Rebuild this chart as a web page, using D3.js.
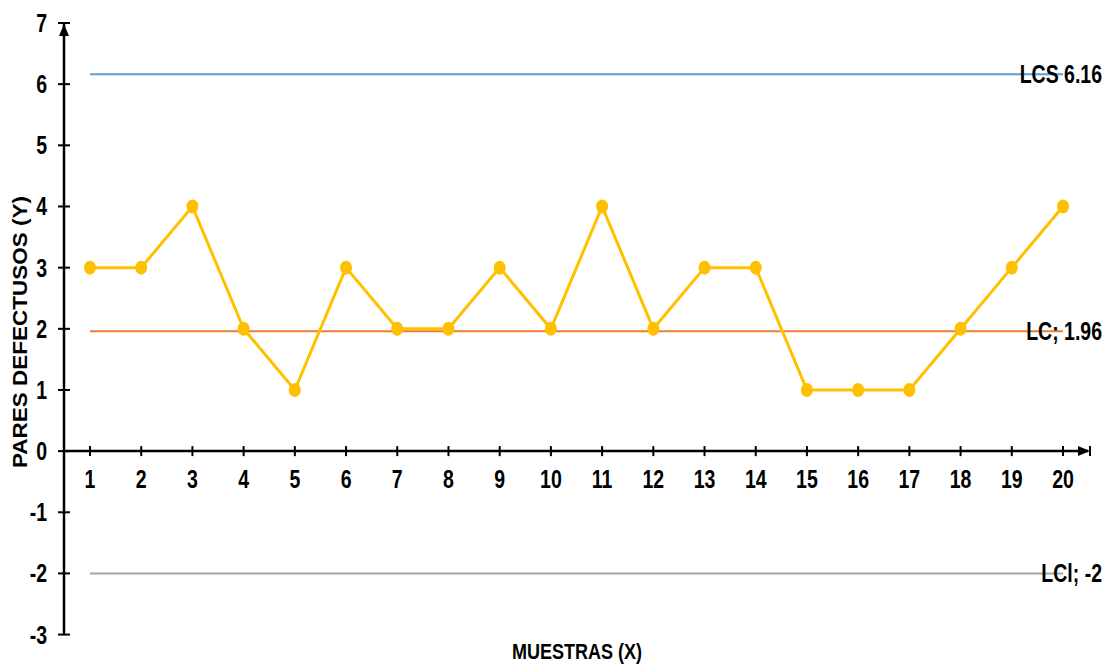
<!DOCTYPE html>
<html>
<head>
<meta charset="utf-8">
<script src="https://cdn.jsdelivr.net/npm/d3@7"></script>
<style>
  html, body { margin: 0; padding: 0; background: #fff; }
  svg { display: block; }
  .lbl, .ttl { font-family: 'Liberation Sans', Arial, sans-serif; font-weight: bold; fill: #000; }
</style>
</head>
<body>
<svg id="chart" width="1107" height="664"></svg>
<script>
// Defective pairs per sample (control chart)
const muestras = [1, 2, 3, 4, 5, 6, 7, 8, 9, 10, 11, 12, 13, 14, 15, 16, 17, 18, 19, 20];
const defectuosos = [3, 3, 4, 2, 1, 3, 2, 2, 3, 2, 4, 2, 3, 3, 1, 1, 1, 2, 3, 4];
const yTicks = [-3, -2, -1, 0, 1, 2, 3, 4, 5, 6, 7];
// Control limits: upper, centre, lower
const limites = [
  { nombre: "LCS", valor: 6.16, texto: "LCS 6.16", color: "#5b9bd5" },
  { nombre: "LC",  valor: 1.96, texto: "LC; 1.96", color: "#ed7d31" },
  { nombre: "LCI", valor: -2,   texto: "LCl; -2",  color: "#a5a5a5" }
];

const svg = d3.select("#chart");
const axisX = 64;
const x = d3.scalePoint().domain(muestras).range([90, 1063]);
const y = d3.scaleLinear().domain([-3, 7]).range([634.6, 23]);
const y0 = y(0);

// Condensed bold label: horizontally squeezed text
const SX = 0.78;
function label(parent, px, py, txt, anchor, size, sx) {
  return parent.append("text").attr("class", "lbl")
    .attr("transform", `translate(${px},${py}) scale(${sx || SX},1)`)
    .attr("text-anchor", anchor).attr("font-size", size || 25)
    .text(txt);
}

// Control limit lines
limites.forEach(l => {
  svg.append("line")
    .attr("x1", x(muestras[0])).attr("x2", x(muestras[muestras.length - 1]))
    .attr("y1", y(l.valor)).attr("y2", y(l.valor))
    .attr("stroke", l.color).attr("stroke-width", 2);
});

// Vertical axis with arrow
const gY = svg.append("g");
gY.append("line").attr("x1", axisX).attr("x2", axisX)
  .attr("y1", y(-3)).attr("y2", y(7)).attr("stroke", "#000").attr("stroke-width", 2.5);
gY.selectAll("line.tk").data(yTicks).join("line").attr("class", "tk")
  .attr("x1", axisX - 6).attr("x2", axisX + 6)
  .attr("y1", d => y(d)).attr("y2", d => y(d))
  .attr("stroke", "#000").attr("stroke-width", 2);
gY.append("path")
  .attr("d", `M${axisX},${y(7) + 1} L${axisX - 5},${y(7) + 13} L${axisX + 5},${y(7) + 13} Z`)
  .attr("fill", "#000");
yTicks.forEach(t => label(gY, 47, y(t) + 9, t, "end"));

// Horizontal axis at zero with arrow
const gX = svg.append("g");
gX.append("line").attr("x1", axisX).attr("x2", 1088)
  .attr("y1", y0).attr("y2", y0).attr("stroke", "#000").attr("stroke-width", 2.5);
gX.selectAll("line.tk").data(muestras).join("line").attr("class", "tk")
  .attr("x1", d => x(d)).attr("x2", d => x(d))
  .attr("y1", y0 - 5).attr("y2", y0 + 5)
  .attr("stroke", "#000").attr("stroke-width", 2);
gX.append("path")
  .attr("d", `M1090,${y0} L1078,${y0 - 5} L1078,${y0 + 5} Z`).attr("fill", "#000");
gX.append("line").attr("x1", 1090).attr("x2", 1090).attr("y1", y0 - 5).attr("y2", y0 + 5)
  .attr("stroke", "#000").attr("stroke-width", 2);
muestras.forEach(m => label(gX, x(m), 488, m, "middle"));

// Data series
const line = d3.line().x((d, i) => x(muestras[i])).y(d => y(d));
svg.append("path").datum(defectuosos).attr("d", line)
  .attr("fill", "none").attr("stroke", "#ffc000").attr("stroke-width", 3);
svg.selectAll("ellipse.pt").data(defectuosos).join("ellipse").attr("class", "pt")
  .attr("cx", (d, i) => x(muestras[i])).attr("cy", d => y(d))
  .attr("rx", 6).attr("ry", 7)
  .attr("fill", "#ffc000");

// Limit labels
limites.forEach(l => label(svg, 1102, y(l.valor) + 9, l.texto, "end"));

// Axis titles
svg.append("text").attr("class", "ttl")
  .attr("transform", `translate(27,332) rotate(-90) scale(1,0.87)`)
  .attr("text-anchor", "middle").attr("font-size", 22.5)
  .text("PARES DEFECTUSOS (Y)");
label(svg, 577, 659, "MUESTRAS (X)", "middle", 22, 0.82);
</script>
</body>
</html>
